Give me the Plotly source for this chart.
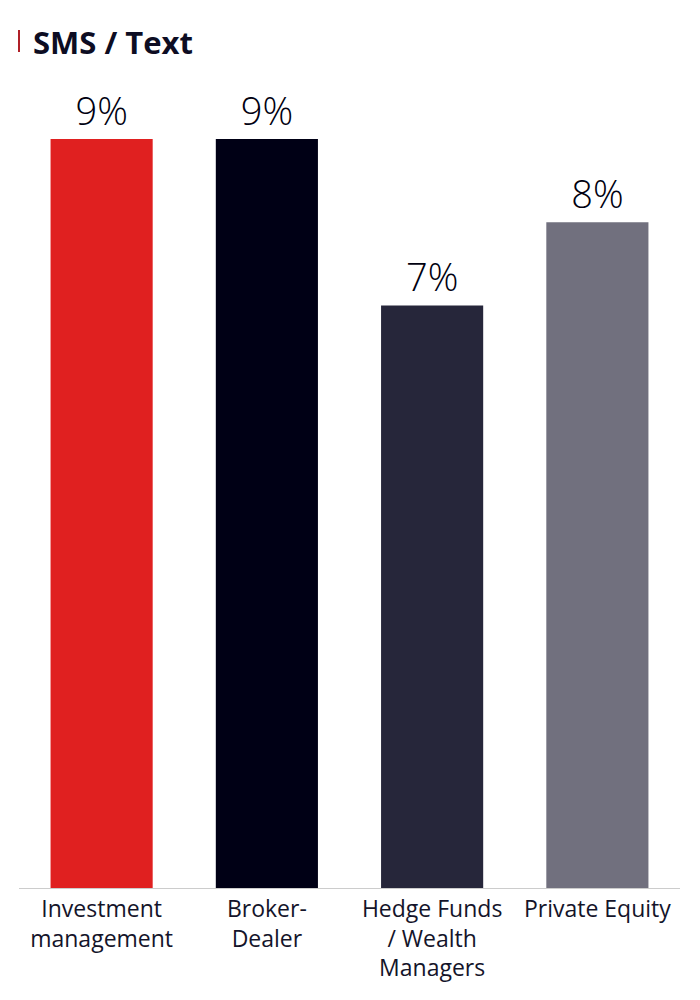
import plotly.graph_objects as go

categories = ["Investment<br>management", "Broker-<br>Dealer", "Hedge Funds<br>/ Wealth<br>Managers", "Private Equity"]
values = [9, 9, 7, 8]
labels = ["9%", "9%", "7%", "8%"]
colors = ["#E02020", "#000015", "#26263A", "#71707E"]

fig = go.Figure(go.Bar(
    x=categories, y=values, text=labels,
    textposition="outside", cliponaxis=False,
    marker=dict(color=colors, line=dict(width=0)),
    textfont=dict(family="Open Sans", size=38, color="#000010", weight=300),
    hoverinfo="skip",
))

fig.update_layout(
    width=700, height=1000,
    margin=dict(l=11, r=28, t=131, b=120),
    paper_bgcolor="white", plot_bgcolor="white",
    bargap=0.382,
    showlegend=False,
    xaxis=dict(showgrid=False, showline=True, linecolor="#cccccc", linewidth=1,
               ticks="", tickfont=dict(family="Open Sans", size=23, color="#14142a")),
    yaxis=dict(range=[0, 9], visible=False, showgrid=False, zeroline=False),
    annotations=[dict(
        text="<b>SMS / Text</b>", xref="paper", yref="paper", x=0, y=1.0, xanchor="left",
        yanchor="middle", xshift=12, yshift=97, showarrow=False,
        font=dict(family="Open Sans", size=31, color="#0d0d23"),
    )],
    shapes=[dict(type="rect", xref="paper", yref="paper",
                 xsizemode="pixel", ysizemode="pixel", xanchor=0, yanchor=1,
                 x0=-1, x1=1, y0=87, y1=109,
                 fillcolor="#B02028", line=dict(width=0))],
)
fig.write_html("out.html")
